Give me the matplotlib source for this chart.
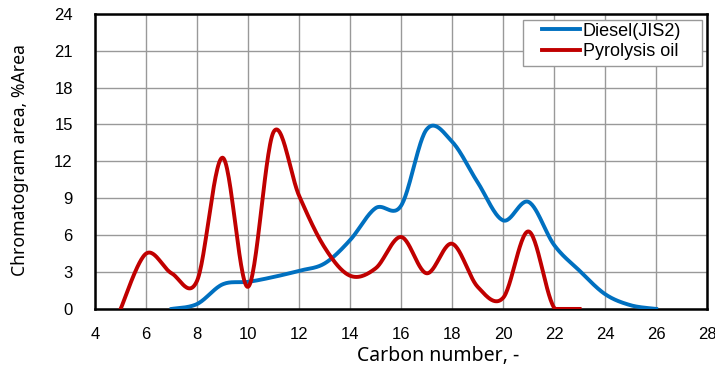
import numpy as np
import matplotlib
matplotlib.use("Agg")
import matplotlib.pyplot as plt
from matplotlib.patches import Rectangle

# carbon number vs chromatogram area (%)
diesel_c = [7, 8, 9, 10, 11, 12, 13, 14, 15, 16, 17, 18, 19, 20, 21, 22, 23, 24, 25, 26]
diesel_area = [0.0, 0.4, 2.0, 2.2, 2.6, 3.1, 3.7, 5.6, 8.2, 8.4, 14.6, 13.6, 10.3, 7.2, 8.7, 5.2, 3.1, 1.2, 0.3, 0.0]

pyro_c = [5, 6, 7, 8, 9, 10, 11, 12, 13, 14, 15, 16, 17, 18, 19, 20, 21, 22, 23]
pyro_area = [0.0, 4.5, 2.9, 2.3, 12.3, 1.8, 14.4, 9.2, 5.0, 2.7, 3.3, 5.85, 2.9, 5.3, 1.8, 0.9, 6.3, 0.1, 0.0]

x_ticks = list(range(4, 29, 2))
y_ticks = list(range(0, 25, 3))


def smooth(x, y, n=30):
    # excel-like smoothed line (catmull-rom through the points)
    x = np.asarray(x, float)
    y = np.asarray(y, float)
    px = np.concatenate([[x[0]], x, [x[-1]]])
    py = np.concatenate([[y[0]], y, [y[-1]]])
    xs, ys = [], []
    t = np.linspace(0, 1, n)
    for i in range(1, len(px) - 2):
        p0 = np.array([px[i - 1], py[i - 1]])
        p1 = np.array([px[i], py[i]])
        p2 = np.array([px[i + 1], py[i + 1]])
        p3 = np.array([px[i + 2], py[i + 2]])
        c1 = p1 + (p2 - p0) / 6
        c2 = p2 - (p3 - p1) / 6
        pts = (((1 - t) ** 3)[:, None] * p1 + (3 * (1 - t) ** 2 * t)[:, None] * c1
               + (3 * (1 - t) * t ** 2)[:, None] * c2 + (t ** 3)[:, None] * p2)
        xs.extend(pts[:, 0])
        ys.extend(pts[:, 1])
    # areas can't go negative
    return np.array(xs), np.maximum(np.array(ys), 0)


fig = plt.figure(figsize=(7.15, 3.74), dpi=100)
ax = fig.add_axes([0.133, 0.174, 0.856, 0.789])

dx, dy = smooth(diesel_c, diesel_area)
px_, py_ = smooth(pyro_c, pyro_area)
ax.plot(dx, dy, color="#0070C0", lw=2.8, label="Diesel(JIS2)", zorder=3)
ax.plot(px_, py_, color="#C00000", lw=2.8, label="Pyrolysis oil", zorder=3)

ax.set_xlim(4, 28)
ax.set_ylim(0, 24)
ax.set_xticks(x_ticks)
ax.set_yticks(y_ticks)
ax.grid(True, color="#999999", lw=1.0)
ax.set_axisbelow(True)
ax.tick_params(length=0, labelsize=12)
ax.tick_params(axis="x", pad=13)
ax.tick_params(axis="y", pad=16)
for lab in ax.get_xticklabels() + ax.get_yticklabels():
    lab.set_family("Liberation Sans")
for s in ax.spines.values():
    s.set_linewidth(1.8)
    s.set_color("black")
    s.set_zorder(2.5)

ax.set_xlabel("Carbon number, -", family="Noto Sans", fontsize=14)
ax.xaxis.set_label_coords(0.56, -0.125)
ax.set_ylabel("Chromatogram area, %Area", family="Noto Sans", fontsize=12.7)
ax.yaxis.set_label_coords(-0.108, 0.505)

# legend frame drawn separately so the padding can differ per side
ax.add_patch(Rectangle((0.699, 0.824), 0.293, 0.156, transform=ax.transAxes,
                       facecolor="white", edgecolor="#999999", lw=1.0, zorder=4))
leg = ax.legend(loc="upper left", bbox_to_anchor=(0.730, 0.970), prop={"family": "Liberation Sans", "size": 13},
                frameon=False, handlelength=2.1, handletextpad=0.15,
                borderpad=0, labelspacing=0.2, borderaxespad=0)
leg.set_zorder(5)

fig.savefig("out.png", dpi=100)
